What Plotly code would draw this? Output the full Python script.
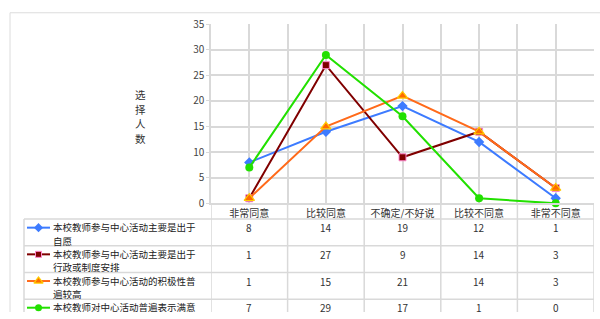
import plotly.graph_objects as go

# ---------------- data ----------------
categories = ["非常同意", "比较同意", "不确定/不好说", "比较不同意", "非常不同意"]
series_names = [
    "本校教师参与中心活动主要是出于自愿",
    "本校教师参与中心活动主要是出于行政或制度安排",
    "本校教师参与中心活动的积极性普遍较高",
    "本校教师对中心活动普遍表示满意",
]
voluntary = [8, 14, 19, 12, 1]
administrative = [1, 27, 9, 14, 3]
enthusiasm = [1, 15, 21, 14, 3]
satisfaction = [7, 29, 17, 1, 0]
y_tick_values = [0, 5, 10, 15, 20, 25, 30, 35]
y_title = "选择人数"

series_values = [voluntary, administrative, enthusiasm, satisfaction]

# ---------------- styling ----------------
W, H = 600, 319
FONT = "Noto Sans CJK SC"
GRID = "#d9d9d9"
styles = [
    dict(color="#3d7bff", symbol="diamond", size=8, lc="#3d7bff", lw=0),
    dict(color="#800000", symbol="square", size=7, lc="#ff88cc", lw=1),
    dict(color="#ff6a1a", symbol="triangle-up", size=9, lc="#ffcc00", lw=1.2, fill="#ff6a00"),
    dict(color="#22e000", symbol="circle", size=8, lc="#22e000", lw=0),
]


def px(x):
    return x / W


def py(y):
    return 1 - y / H


X_LEFT, X_RIGHT = 211, 594
Y_TOP, Y_AXIS = 17, 205
HEADER_BOTTOM = 221.5
ROW_H = 28
TABLE_LEFT = 24
CHARS_PER_LINE = 15

positions = list(range(len(categories)))

fig = go.Figure()

for name, vals, st in zip(series_names, series_values, styles):
    fig.add_trace(go.Scatter(
        x=positions, y=vals, mode="lines+markers", name=name,
        line=dict(color=st["color"], width=2),
        marker=dict(symbol=st["symbol"], size=st["size"],
                    color=st.get("fill", st["color"]),
                    line=dict(color=st["lc"], width=st["lw"])),
        showlegend=False, xaxis="x", yaxis="y", cliponaxis=False,
    ))

# legend keys inside the data table (pixel-space overlay axes)
for i, st in enumerate(styles):
    yk = HEADER_BOTTOM + i * ROW_H + 9
    fig.add_trace(go.Scatter(
        x=[27, 50], y=[yk, yk], mode="lines",
        line=dict(color=st["color"], width=2),
        showlegend=False, xaxis="x2", yaxis="y2", hoverinfo="skip",
    ))
    fig.add_trace(go.Scatter(
        x=[38.5], y=[yk], mode="markers",
        marker=dict(symbol=st["symbol"], size=st["size"] - 1,
                    color=st.get("fill", st["color"]),
                    line=dict(color=st["lc"], width=st["lw"])),
        showlegend=False, xaxis="x2", yaxis="y2", hoverinfo="skip",
    ))

shapes = []
# outer frame
shapes.append(dict(type="line", xref="paper", yref="paper",
                   x0=px(10), x1=1, y0=py(5), y1=py(5),
                   line=dict(color="#dcdcdc", width=1)))
shapes.append(dict(type="line", xref="paper", yref="paper",
                   x0=px(10), x1=px(10), y0=py(5), y1=0,
                   line=dict(color="#dcdcdc", width=1)))
# table horizontal lines
for k in range(4):
    yy = HEADER_BOTTOM + k * ROW_H
    shapes.append(dict(type="line", xref="paper", yref="paper",
                       x0=px(TABLE_LEFT), x1=px(X_RIGHT), y0=py(yy), y1=py(yy),
                       line=dict(color=GRID, width=1.5)))
# table left border
shapes.append(dict(type="line", xref="paper", yref="paper",
                   x0=px(TABLE_LEFT), x1=px(TABLE_LEFT), y0=py(HEADER_BOTTOM), y1=0,
                   line=dict(color=GRID, width=1.5)))
# table column lines (category boundaries), below the axis
for b in [p - 0.5 for p in positions] + [positions[-1] + 0.5]:
    shapes.append(dict(type="line", xref="x", yref="paper",
                       x0=b, x1=b, y0=py(Y_AXIS), y1=0,
                       line=dict(color=GRID, width=1.5)))

annotations = []
# y-axis title, one character per line
title_step = 15.3
title_center = 114
for k, ch in enumerate(y_title):
    yc = title_center + (k - (len(y_title) - 1) / 2) * title_step
    annotations.append(dict(text=ch, xref="paper", yref="paper",
                            x=px(140), y=py(yc), showarrow=False,
                            xanchor="center", yanchor="middle",
                            font=dict(family=FONT, size=10.5, color="#333333")))
# table legend text (wrapped) and values
for i, (name, vals) in enumerate(zip(series_names, series_values)):
    top = HEADER_BOTTOM + i * ROW_H
    lines = [name[j:j + CHARS_PER_LINE] for j in range(0, len(name), CHARS_PER_LINE)]
    for li, line in enumerate(lines):
        annotations.append(dict(text=line, xref="paper", yref="paper",
                                x=px(51), y=py(top + 8.5 + 14 * li), showarrow=False,
                                xanchor="left", yanchor="middle", align="left",
                                font=dict(family=FONT, size=9.5, color="#222222")))
    for p, v in zip(positions, vals):
        annotations.append(dict(text=str(v), xref="x", yref="paper",
                                x=p, y=py(top + 9), showarrow=False,
                                xanchor="center", yanchor="middle",
                                font=dict(family=FONT, size=10, color="#333333")))

fig.update_layout(
    width=W, height=H, autosize=False,
    margin=dict(l=0, r=0, t=0, b=0),
    paper_bgcolor="white", plot_bgcolor="rgba(0,0,0,0)",
    font=dict(family=FONT, size=10, color="#333333"),
    xaxis=dict(
        domain=[px(X_LEFT), px(X_RIGHT)], range=[-0.5, len(categories) - 0.5],
        tickmode="array", tickvals=positions, ticktext=categories,
        showgrid=True, gridcolor=GRID, gridwidth=1.5,
        minor=dict(tickmode="array", tickvals=[p + 0.5 for p in positions[:-1]],
                   showgrid=True, gridcolor=GRID, gridwidth=1.5),
        showline=True, linecolor=GRID, linewidth=1.5,
        ticks="", tickfont=dict(family=FONT, size=10, color="#333333"),
        zeroline=False, fixedrange=True, anchor="y",
    ),
    yaxis=dict(
        domain=[py(Y_AXIS), py(Y_TOP)], range=[0, 35],
        tickmode="array", tickvals=y_tick_values,
        showgrid=False,
        minor=dict(tickmode="array", tickvals=y_tick_values[1:-1],
                   showgrid=True, gridcolor=GRID, gridwidth=1.5),
        showline=True, linecolor=GRID, linewidth=1.5,
        ticks="outside", ticklen=3, tickcolor=GRID,
        tickfont=dict(family=FONT, size=10, color="#444444"),
        zeroline=False, fixedrange=True, anchor="x",
    ),
    xaxis2=dict(domain=[0, 1], range=[0, W], visible=False, anchor="y2", fixedrange=True),
    yaxis2=dict(domain=[0, 1], range=[H, 0], visible=False, anchor="x2", fixedrange=True),
    shapes=shapes,
    annotations=annotations,
)

fig.write_html("out.html", config={"displayModeBar": False},
               post_script="document.documentElement.style.margin='0';document.body.style.margin='0';document.body.style.overflow='hidden';")
